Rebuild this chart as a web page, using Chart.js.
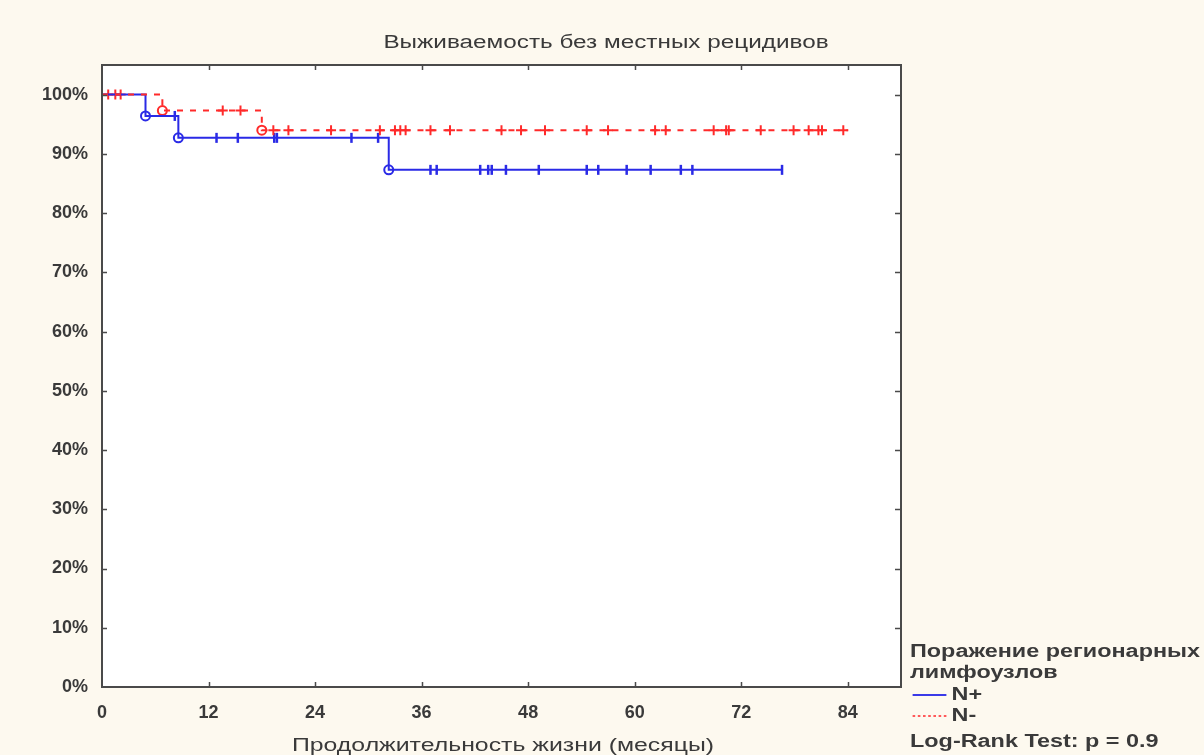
<!DOCTYPE html>
<html>
<head>
<meta charset="utf-8">
<script src="https://cdn.jsdelivr.net/npm/chart.js@4"></script>
<style>
  html, body { margin: 0; padding: 0; background: #fdf9ef; }
  #wrap { position: relative; width: 1204px; height: 755px; }
  #chart { position: absolute; left: 0; top: 0; }
  .txt { position: absolute; font-family: "Liberation Sans", Arial, sans-serif; color: #3a3a3a; white-space: nowrap; }
  .title { left: 606px; top: 32px; font-size: 18px; transform: translateX(-50%) scaleX(1.35); }
  .xtitle { left: 503px; top: 735px; font-size: 18px; transform: translateX(-50%) scaleX(1.38); }
  .legend { left: 910px; font-size: 18px; font-weight: bold; transform: scaleX(1.3); transform-origin: left center; }
  .swatch { display: inline-block; width: 26px; height: 0; vertical-align: middle; margin-right: 4px; margin-left: 2px; }
</style>
</head>
<body>
<div id="wrap">
  <canvas id="chart" width="1204" height="755"></canvas>
  <div class="txt title">Выживаемость без местных рецидивов</div>
  <div class="txt xtitle">Продолжительность жизни (месяцы)</div>
  <div class="txt legend" style="top:641px">Поражение регионарных</div>
  <div class="txt legend" style="top:662px">лимфоузлов</div>
  <div class="txt legend" style="top:684px"><span class="swatch" style="border-top:2px solid #3a3ae8"></span>N+</div>
  <div class="txt legend" style="top:705px"><span class="swatch" style="border-top:2px dotted #ff5a5a"></span>N-</div>
  <div class="txt legend" style="top:731px">Log-Rank Test: p = 0.9</div>
</div>
<script>
// Kaplan-Meier curves (months, survival %)
const xTicks = [0, 12, 24, 36, 48, 60, 72, 84];
const yTicks = [0, 10, 20, 30, 40, 50, 60, 70, 80, 90, 100];

const nPlusEventTimes = [4.9, 8.6, 32.3];
const nPlusEventSurv = [96.4, 92.7, 87.3];
const nPlusEnd = 76.6;
const nPlusCensored = [8.2, 12.9, 15.3, 19.4, 19.7, 28.1, 31.1, 37.0, 37.7, 42.6, 43.5, 43.9, 45.5,
  49.2, 54.6, 55.9, 59.1, 61.8, 65.2, 66.5, 76.6];

const nMinusEventTimes = [6.8, 18.0];
const nMinusEventSurv = [97.3, 94.0];
const nMinusEnd = 84.0;
const nMinusCensored = [0.7, 1.5, 2.1, 13.6, 15.6, 19.3, 21.0, 25.8, 31.3, 33.0, 33.6, 34.2, 37.0,
  39.2, 45.0, 47.2, 49.9, 54.6, 57.0, 62.3, 63.5, 68.9, 70.3, 70.6, 74.2, 77.9, 79.6, 80.7, 81.1, 83.5];

const BLUE = '#2a2ae6';
const RED = '#ff2a2a';

// step curve points: start at 100%, one point per event, then run to the last follow-up
function stepPoints(times, surv, end) {
  const pts = [{ x: 0, y: 100 }];
  times.forEach((t, i) => pts.push({ x: t, y: surv[i] }));
  pts.push({ x: end, y: surv[surv.length - 1] });
  return pts;
}

// survival level at time t (used to put censor marks on the curve)
function levelAt(times, surv, t) {
  let s = 100;
  times.forEach((et, i) => { if (et <= t) s = surv[i]; });
  return s;
}

const boxPlugin = {
  id: 'box',
  beforeDraw(chart) {
    const a = chart.chartArea, ctx = chart.ctx;
    ctx.save();
    ctx.fillStyle = '#ffffff';
    ctx.fillRect(a.left, a.top, a.right - a.left, a.bottom - a.top);
    ctx.restore();
  },
  afterDraw(chart) {
    const a = chart.chartArea, ctx = chart.ctx;
    const xs = chart.scales.x, ys = chart.scales.y;
    ctx.save();
    ctx.strokeStyle = '#4a4a4a';
    ctx.lineWidth = 2;
    ctx.strokeRect(a.left, a.top, a.right - a.left, a.bottom - a.top);
    ctx.lineWidth = 1.5;
    ctx.beginPath();
    xTicks.forEach(v => {
      const px = Math.round(xs.getPixelForValue(v)) + 0.5;
      if (v > 0) {
        ctx.moveTo(px, a.bottom); ctx.lineTo(px, a.bottom - 5);
        ctx.moveTo(px, a.top); ctx.lineTo(px, a.top + 5);
      }
    });
    yTicks.forEach(v => {
      const py = Math.round(ys.getPixelForValue(v)) + 0.5;
      if (v > 0) {
        ctx.moveTo(a.left, py); ctx.lineTo(a.left + 5, py);
        ctx.moveTo(a.right, py); ctx.lineTo(a.right - 6, py);
      }
    });
    ctx.stroke();
    ctx.restore();
  }
};

new Chart(document.getElementById('chart'), {
  type: 'line',
  data: {
    datasets: [
      {
        label: 'N-',
        data: stepPoints(nMinusEventTimes, nMinusEventSurv, nMinusEnd),
        stepped: true,
        borderColor: RED,
        borderWidth: 2,
        borderDash: [6, 7],
        pointRadius: 0
      },
      {
        label: 'N+',
        data: stepPoints(nPlusEventTimes, nPlusEventSurv, nPlusEnd),
        stepped: true,
        borderColor: BLUE,
        borderWidth: 2,
        pointRadius: 0
      },
      {
        label: 'N- events',
        data: nMinusEventTimes.map((t, i) => ({ x: t, y: nMinusEventSurv[i] })),
        showLine: false,
        pointStyle: 'circle',
        pointRadius: 4.5,
        pointBorderWidth: 2,
        pointBorderColor: RED,
        pointBackgroundColor: 'rgba(0,0,0,0)'
      },
      {
        label: 'N+ events',
        data: nPlusEventTimes.map((t, i) => ({ x: t, y: nPlusEventSurv[i] })),
        showLine: false,
        pointStyle: 'circle',
        pointRadius: 4.5,
        pointBorderWidth: 2,
        pointBorderColor: BLUE,
        pointBackgroundColor: 'rgba(0,0,0,0)'
      },
      {
        label: 'N- censored',
        data: nMinusCensored.map(t => ({ x: t, y: levelAt(nMinusEventTimes, nMinusEventSurv, t) })),
        showLine: false,
        pointStyle: 'cross',
        pointRadius: 5,
        pointBorderWidth: 2,
        pointBorderColor: RED
      },
      {
        label: 'N+ censored',
        data: nPlusCensored.map(t => ({ x: t, y: levelAt(nPlusEventTimes, nPlusEventSurv, t) })),
        showLine: false,
        pointStyle: 'line',
        rotation: 90,
        pointRadius: 5,
        pointBorderWidth: 2.5,
        pointBorderColor: BLUE
      }
    ]
  },
  options: {
    responsive: false,
    animation: false,
    layout: { padding: { left: 0, right: 303, top: 65, bottom: 0 } },
    plugins: {
      legend: { display: false },
      tooltip: { enabled: false },
      title: { display: false }
    },
    scales: {
      x: {
        type: 'linear',
        min: 0,
        max: 90,
        afterFit: s => { s.height = 68; },
        afterBuildTicks: s => { s.ticks = xTicks.map(v => ({ value: v })); },
        grid: { display: false },
        border: { display: false },
        ticks: {
          padding: 7,
          color: '#3a3a3a',
          font: { family: 'Liberation Sans', size: 18, weight: 'bold' }
        }
      },
      y: {
        min: 0,
        max: 105,
        afterFit: s => { s.width = 102; },
        afterBuildTicks: s => { s.ticks = yTicks.map(v => ({ value: v })); },
        grid: { display: false },
        border: { display: false },
        ticks: {
          padding: 6,
          color: '#3a3a3a',
          font: { family: 'Liberation Sans', size: 18, weight: 'bold' },
          callback: v => v + '%'
        }
      }
    }
  },
  plugins: [boxPlugin]
});
</script>
</body>
</html>
